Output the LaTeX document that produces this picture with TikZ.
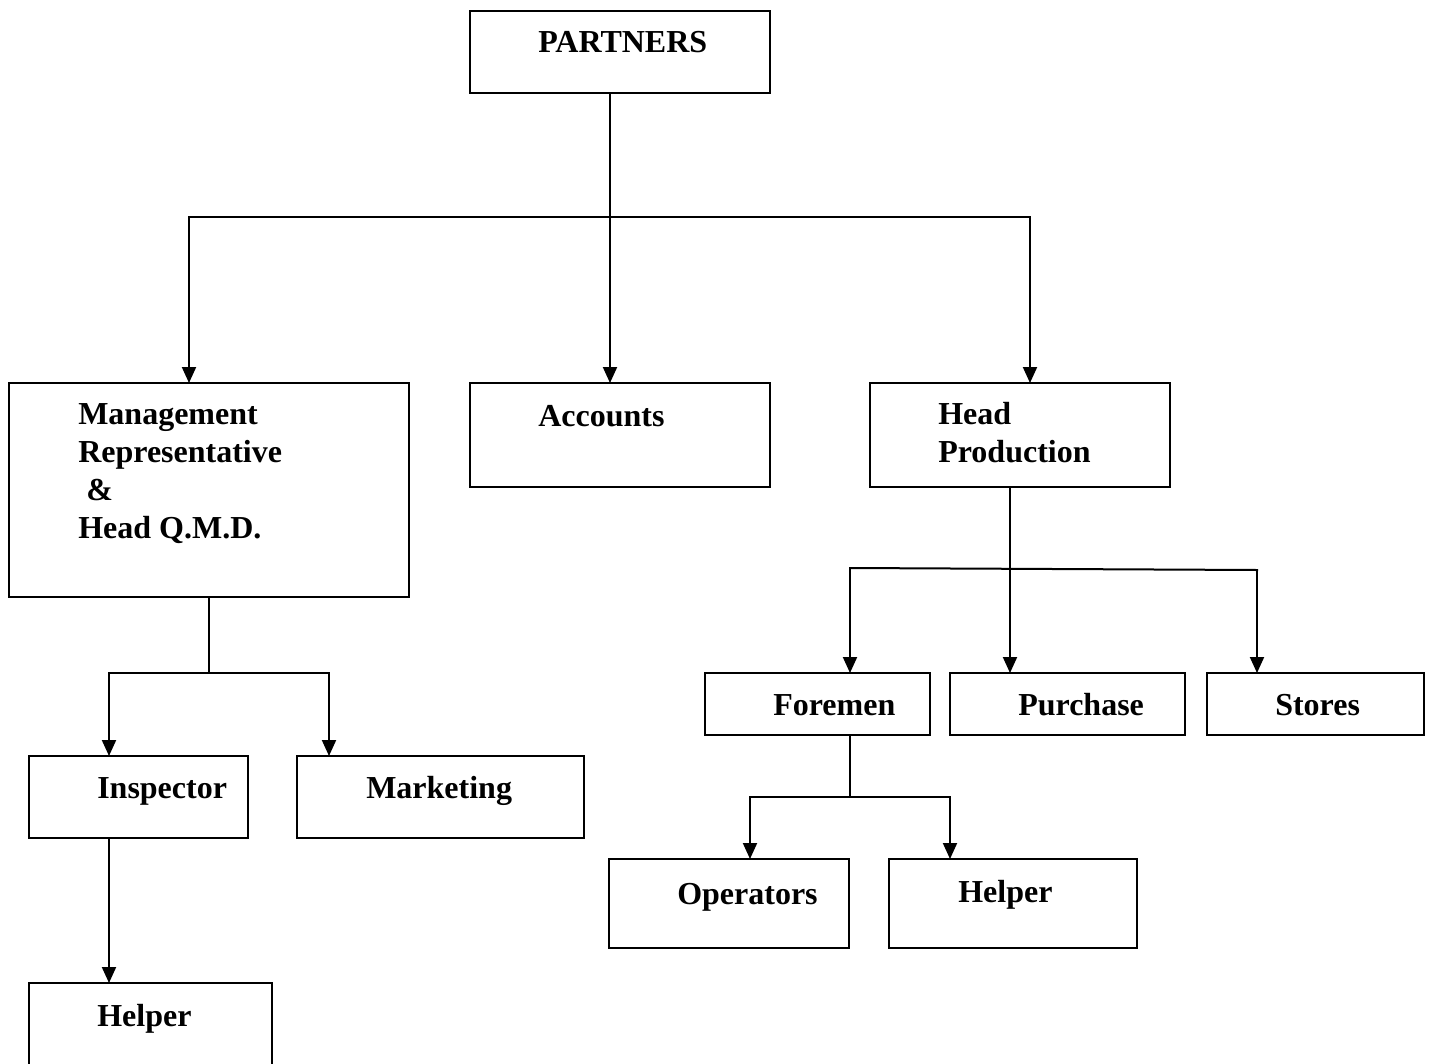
\documentclass[tikz,border=0pt]{standalone}
\usepackage{fontspec}
\setmainfont{Liberation Serif}
\usetikzlibrary{arrows.meta}
% box with corners (x1,y1) and (x2,y2)
\newcommand\orgbox[5]{\node[box,minimum width={(#4-#2)*0.75pt},minimum height={(#5-#3)*0.75pt}] (#1) at ({(#2+#4)/2},{(#3+#5)/2}) {};}
\begin{document}
\begin{tikzpicture}[x=0.75pt,y=-0.75pt,
  box/.style={draw,line width=1.5pt,inner sep=0pt,outer sep=0pt},
  lbl/.style={anchor=base west,inner sep=0pt,font=\fontsize{24}{28.5}\selectfont\bfseries,align=left},
  link/.style={line width=1.5pt,line cap=rect},
  arr/.style={line width=1.5pt,-{Triangle[width=10.5pt,length=12pt]}}]
\useasboundingbox (0,0) rectangle (1429,1064);
\clip (0,0) rectangle (1429,1064);
\orgbox{partners}{470}{11}{770}{93}
\orgbox{mgmt}{9}{383}{409}{597}
\orgbox{accounts}{470}{383}{770}{487}
\orgbox{headprod}{870}{383}{1170}{487}
\orgbox{foremen}{705}{673}{930}{735}
\orgbox{purchase}{950}{673}{1185}{735}
\orgbox{stores}{1207}{673}{1424}{735}
\orgbox{inspector}{29}{756}{248}{838}
\orgbox{marketing}{297}{756}{584}{838}
\orgbox{operators}{609}{859}{849}{948}
\orgbox{helperR}{889}{859}{1137}{948}
\orgbox{helperL}{29}{983}{272}{1100}
% texts (base = baseline of the last line)
\node[lbl] (tpartners) at (538,52) {PARTNERS};
\node[lbl] (tmgmt) at (78,538) {Management\\Representative\\\ \&\\Head Q.M.D.};
\node[lbl] (taccounts) at (538,426) {Accounts};
\node[lbl] (theadprod) at (938,462) {Head\\Production};
\node[lbl] (tforemen) at (773,715) {Foremen};
\node[lbl] (tpurchase) at (1018,715) {Purchase};
\node[lbl] (tstores) at (1275,715) {Stores};
\node[lbl] (tinspector) at (97,798) {Inspector};
\node[lbl] (tmarketing) at (366,798) {Marketing};
\node[lbl] (toperators) at (677,904) {Operators};
\node[lbl] (thelperR) at (958,902) {Helper};
\node[lbl] (thelperL) at (97,1026) {Helper};
% junction points
\coordinate (pM) at (610,217);
\coordinate (pL) at (189,217);
\coordinate (pR) at (1030,217);
\coordinate (mM) at (209,673);
\coordinate (mL) at (109,673);
\coordinate (mR) at (329,673);
\coordinate (hL) at (850,568);
\coordinate (hM) at (1010,569);
\coordinate (hR) at (1257,570);
\coordinate (fM) at (850,797);
\coordinate (fL) at (750,797);
\coordinate (fR) at (950,797);
% partners level
\draw[arr] (pM |- partners.south) -- (pM |- accounts.north);
\draw[link] (pL) -- (pR);
\draw[arr] (pL) -- (pL |- mgmt.north);
\draw[arr] (pR) -- (pR |- headprod.north);
% management branch
\draw[link] (mgmt.south) -- (mM);
\draw[link] (mL) -- (mR);
\draw[arr] (mL) -- (mL |- inspector.north);
\draw[arr] (mR) -- (mR |- marketing.north);
\draw[arr] (mL |- inspector.south) -- (mL |- helperL.north);
% production branch
\draw[arr] (hM |- headprod.south) -- (hM |- purchase.north);
\draw[link] (hL) -- (hR);
\draw[arr] (hL) -- (hL |- foremen.north);
\draw[arr] (hR) -- (hR |- stores.north);
% foremen branch
\draw[link] (fM |- foremen.south) -- (fM);
\draw[link] (fL) -- (fR);
\draw[arr] (fL) -- (fL |- operators.north);
\draw[arr] (fR) -- (fR |- helperR.north);
\end{tikzpicture}
\end{document}
